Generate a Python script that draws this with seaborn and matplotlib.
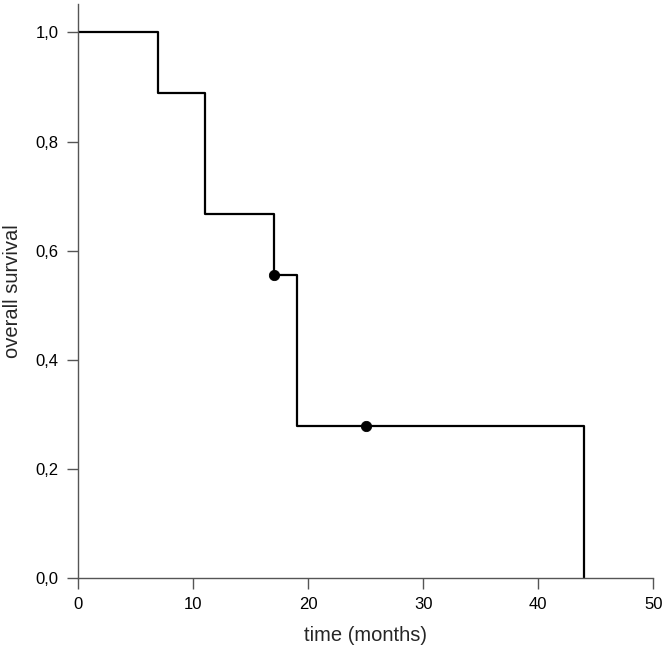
import matplotlib
matplotlib.use("Agg")
import matplotlib.pyplot as plt
import seaborn as sns
import pandas as pd

# Kaplan-Meier step data
times = [0, 7, 11, 17, 19, 44]
survival = [1.0, 0.889, 0.667, 0.556, 0.278, 0.0]
# censored observations
cens_times = [17, 25]
cens_surv = [0.556, 0.278]

x_ticks = [0, 10, 20, 30, 40, 50]
y_ticks = [0.0, 0.2, 0.4, 0.6, 0.8, 1.0]
y_tick_labels = ["0,0", "0,2", "0,4", "0,6", "0,8", "1,0"]

sns.set_style("ticks")
plt.rcParams['font.family'] = ['Liberation Sans', 'DejaVu Sans']

fig = plt.figure(figsize=(6.63, 6.57), dpi=100)
ax = fig.add_axes([0.1176, 0.1202, 0.8676, 0.8737])

df = pd.DataFrame({"time": times, "surv": survival})
sns.lineplot(data=df, x="time", y="surv", drawstyle="steps-post",
             color="black", linewidth=1.6, estimator=None, ax=ax)
cdf = pd.DataFrame({"time": cens_times, "surv": cens_surv})
sns.scatterplot(data=cdf, x="time", y="surv", color="black", s=55,
                edgecolor="black", zorder=5, ax=ax)

ax.set_xlim(0, 50)
ax.set_ylim(0, 1.052)
ax.set_xticks(x_ticks)
ax.set_xticklabels([str(t) for t in x_ticks])
ax.set_yticks(y_ticks)
ax.set_yticklabels(y_tick_labels)

for s in ["top", "right"]:
    ax.spines[s].set_visible(False)
for s in ["left", "bottom"]:
    ax.spines[s].set_color("#555555")
    ax.spines[s].set_linewidth(1.0)

ax.tick_params(axis="both", which="major", bottom=True, left=True,
               direction="out", length=8, width=1.0,
               color="#555555", labelsize=12, labelcolor="black", pad=6)

ax.set_xlabel("time (months)", fontsize=14.5, labelpad=10)
ax.set_ylabel("overall survival", fontsize=14.5, labelpad=10)

fig.savefig("out.png", dpi=100)
